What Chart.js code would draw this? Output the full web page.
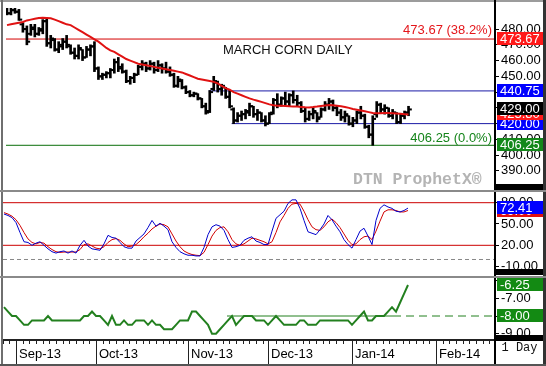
<!DOCTYPE html>
<html lang="en">
<head>
<meta charset="utf-8">
<title>March Corn Daily</title>
<script src="https://cdn.jsdelivr.net/npm/chart.js@4.4.1/dist/chart.umd.min.js"></script>
<style>
    html, body { margin: 0; padding: 0; background: #fff; }
    body { position: relative; width: 546px; height: 366px; overflow: hidden;
           font-family: "Liberation Sans", Arial, sans-serif; }
    canvas { position: absolute; left: 0; }
    .rule { position: absolute; }
    #title { position: absolute; left: 223px; top: 42px; font-size: 13px; color: #111; white-space: nowrap; }
    #brand { position: absolute; left: 353px; top: 170px; font: bold 16.5px "Liberation Mono", monospace;
             color: #b4b4b4; white-space: nowrap; }
    #period { position: absolute; left: 496px; top: 341px; width: 47px; height: 23px; line-height: 23px;
              text-align: center; font: 12px "Liberation Mono", monospace; color: #111; }
</style>
</head>
<body>
<canvas id="priceChart" width="546" height="188" style="top:2px"></canvas>
<canvas id="stochChart" width="546" height="83" style="top:193px"></canvas>
<canvas id="spreadChart" width="546" height="88" style="top:278px"></canvas>

<!-- marcos y separadores -->
<div class="rule" style="left:0;top:0;width:546px;height:2px;background:#9c9c9c"></div>
<div class="rule" style="left:1px;top:0;width:2px;height:366px;background:#6f6f6f"></div>
<div class="rule" style="left:543px;top:0;width:3px;height:366px;background:#333"></div>
<div class="rule" style="left:494px;top:0;width:2px;height:366px;background:#000"></div>
<div class="rule" style="left:0;top:190px;width:546px;height:2px;background:#8a8a8a"></div>
<div class="rule" style="left:496px;top:184px;width:47px;height:6px;background:#000"></div>
<div class="rule" style="left:0;top:276px;width:546px;height:2px;background:#8a8a8a"></div>
<div class="rule" style="left:496px;top:269px;width:47px;height:6px;background:#000"></div>
<div class="rule" style="left:496px;top:335px;width:47px;height:6px;background:#000"></div>
<div class="rule" style="left:0;top:364px;width:546px;height:2px;background:#555"></div>

<div id="title">MARCH CORN DAILY</div>
<div id="brand">DTN ProphetX®</div>
<div id="period">1 Day</div>

<script>
// Precios diarios (indice = sesion de trading)
const highs = [
    495, 496, 494, 492.5, 484, 482, 483, 483, 481, 486,
    487, 476, 474, 472, 474, 476, 470, 468, 470, 467,
    469, 470, 472, 456, 452, 453, 455, 461, 462, 458,
    454, 450, 452, 457, 460, 459, 460, 459, 460, 458,
    459, 456, 452, 450, 448, 444, 441, 440, 439, 436,
    433, 441, 450, 447, 445, 443, 441, 430, 427, 428,
    429, 433, 431, 429, 427, 425, 427, 436, 439, 437,
    440, 439, 440.75, 438, 434, 430, 428, 430, 427, 430,
    434, 436, 435, 431, 429, 428, 425, 424, 428, 431,
    426, 419, 425, 434, 433, 432, 430, 429, 427, 426,
    428, 431
];
const lows = [
    489, 489, 490, 485.5, 478, 470, 476, 475, 476, 477,
    469, 468, 466, 465, 467, 468, 464, 461, 461, 460,
    462, 463, 453, 448, 448, 449, 449, 452, 453, 452,
    446, 445, 446, 451, 454, 453, 454, 452, 453, 452,
    452, 450, 443, 443, 442, 439, 437, 437, 435, 430,
    426, 427, 441, 440, 438, 436, 430, 420, 421, 422,
    423, 425, 424, 422, 421, 418.5, 420, 426, 430, 431,
    432, 431, 433, 431, 427, 421, 422, 423, 421, 424,
    428, 429, 428, 425, 422, 421, 419, 418, 420, 423,
    417, 411, 406.25, 424, 427, 426, 424, 423, 420, 420,
    423, 425
];
const opens = [
    493, 490, 492, 491, 483, 480, 477, 480, 477, 479,
    485, 471, 473, 467, 469, 472, 469, 465, 463, 467,
    462, 467, 469, 455, 450, 451, 452, 454, 459, 456,
    453, 447, 449, 451, 456, 458, 455, 458, 454, 457,
    455, 453, 451, 444, 447, 443, 440, 438, 439, 436,
    431, 428, 442, 446, 442, 443, 437, 429, 422, 425,
    426, 427, 431, 426, 427, 422, 420, 427, 435, 432,
    436, 434, 438, 435, 433, 428, 423, 426, 427, 424,
    429, 432, 434, 430, 427, 424, 425, 420, 422, 427,
    425, 418, 413, 426, 432, 429, 430, 425, 427, 421,
    425, 427
];
const closes = [
    490, 492, 491, 486, 480, 472, 481, 477, 480, 485,
    471, 474, 467, 470, 472, 470, 465, 463, 468, 462,
    467, 469, 455, 450, 451, 452, 454, 459, 455, 453,
    447, 449, 451, 456, 458, 455, 458, 454, 457, 455,
    453, 451, 444, 448, 443, 440, 438, 439, 436, 431,
    427, 440, 447, 442, 444, 437, 431, 422, 425, 426,
    428, 431, 426, 427, 422, 420, 426, 435, 432, 436,
    434, 438, 435, 433, 428, 423, 426, 428, 423, 429,
    432, 434, 430, 427, 424, 426, 420, 422, 427, 425,
    418, 413, 423, 432, 429, 430, 425, 427, 421, 425,
    427, 429
];
// Media movil (linea roja)
const movingAvg = [
    482.5, 483, 483.5, 484, 484.5, 485.5, 486, 486.5, 487, 487.2,
    487, 486.8, 486, 485, 484, 483, 482.5, 481, 479.5, 478,
    476.5, 475, 473.5, 472, 470, 468, 466.5, 465.5, 464, 462.5,
    461, 460, 459, 458, 457.5, 457, 456.5, 456, 455.5, 455,
    454.5, 454, 453.5, 453, 452.5, 451.5, 450.5, 449.5, 448.5, 448,
    447.5, 447, 446.5, 445.5, 444, 442.5, 441.5, 440, 439, 438,
    437, 436, 435.2, 434.5, 433.8, 433, 432.2, 431.6, 431.4, 431.3,
    431.2, 431, 430.9, 430.8, 430.6, 430.4, 430.3, 430.5, 430.8, 431.2,
    431.5, 431.8, 431.6, 431.3, 431, 430.6, 430, 429.3, 428.8, 428.3,
    427.8, 427.3, 426.8, 426.6, 426.6, 426.7, 426.8, 426.6, 426.4, 426.2,
    426, 425.8
];
// Estocastico %K (azul) y %D (rojo)
const stochK = [
    64, 62, 59, 52, 38, 25, 24, 20, 23, 25,
    20, 15, 11, 9, 11, 12, 9, 12, 9, 20,
    27, 19, 15, 14, 13, 22, 34, 31, 30, 24,
    18, 16, 16, 26, 31, 36, 45, 55, 47, 51,
    47, 42, 25, 17, 11, 8, 6, 6, 5, 5,
    17, 35, 46, 49, 47, 41, 28, 17, 18, 20,
    27, 30, 32, 26, 24, 21, 21, 40, 58, 63,
    68, 79, 84, 84, 72, 55, 39, 37, 35, 42,
    50, 62, 56, 47, 39, 28, 21, 16, 28, 40,
    44, 33, 21, 55, 72, 77, 74, 72, 68, 67,
    69, 72.41
];
const stochD = [
    66, 64, 61, 56, 48, 38, 29, 24, 22, 24,
    23, 18, 14, 11, 10, 10.5, 10.5, 10.5, 10.6, 14,
    21, 22, 19, 16, 15, 18, 24, 28, 29.5, 27,
    22, 18, 19, 21, 26, 32, 37, 43, 47, 50,
    49, 46, 36, 26, 18, 12, 9, 7, 6, 5.5,
    10, 21, 33, 41, 45, 46, 39, 28, 22, 20,
    22, 26, 30, 29, 27, 25, 22, 25, 38, 53,
    62, 72, 78, 79, 78, 68, 56, 46, 42, 41,
    46, 53, 57, 52, 45, 36, 27, 21, 22, 28,
    32, 33, 28, 40, 54, 67, 70, 70, 69, 67,
    67, 69
];
// Diferencial (panel inferior)
const spread = [
    -7.5, -7.75, -8, -8, -8.25, -8.5, -8.5, -8.25, -8.25, -8.25,
    -8.25, -8, -8.25, -8.25, -8.25, -8.25, -8.25, -8.25, -8.25, -8.25,
    -8, -8, -7.75, -8, -8, -8.25, -8.5, -8, -8.5, -8.5,
    -8.25, -8.5, -8.5, -8.25, -8.25, -8.25, -8.5, -8.25, -8.5, -8.5,
    -8.75, -8.75, -8.75, -8.5, -8.25, -8.25, -8.25, -7.75, -7.75, -8,
    -8.25, -8.5, -9, -9, -8.75, -8.5, -8.25, -8, -8.5, -8.25,
    -8, -8, -8, -8.25, -8.25, -8.25, -8.5, -8.25, -8, -8.25,
    -8.5, -8.5, -8.5, -8.5, -8.25, -8.25, -8.5, -8.5, -8.5, -8.25,
    -8.25, -8.25, -8.25, -8.25, -8.25, -8.25, -8.25, -8.5, -8.25, -8,
    -7.75, -8.25, -8.25, -8, -8, -8, -7.75, -7.5, -7.75, -7.25,
    -6.75, -6.25
];

// Niveles dibujados en el grafico
const fibHigh = 473.67, fibHighPct = 38.2;
const fibLow = 406.25, fibLowPct = 0.0;
const rangeTop = 440.75, rangeTopStart = 50.75;
const rangeBottom = 420.00, rangeBottomStart = 56.5;
const stochUpper = 80, stochLower = 20, stochZero = 0;
const spreadGuide = -8.00, spreadGuideStart = 55.75, spreadGuideDashFrom = 97.25;

// Ejes
const priceTicks = [390, 400, 410, 420, 430, 440, 450, 460, 470, 480];
const stochTicks = [-10, 0, 10, 20, 30, 40, 50, 60, 70, 80, 90];
const stochLabels = [-10, 20, 50, 80];
const spreadTicks = [-9, -8.5, -8, -7.5, -7, -6.5, -6];
const spreadLabels = [-9, -8, -7, -6];
const monthStarts = [3, 23, 46, 66, 87, 108];
const monthLabels = ['Sep-13', 'Oct-13', 'Nov-13', 'Dec-13', 'Jan-14', 'Feb-14'];

const xMin = -0.25, xMax = 122.75;
const fontFamily = '"Liberation Sans", Arial, sans-serif';

// Etiquetas de valor sobre el eje derecho y notas de Fibonacci
const axisTags = {
    id: 'axisTags',
    afterDraw(chart, args, opts) {
        const { ctx } = chart;
        const yScale = chart.scales.y;
        ctx.save();
        ctx.font = '13px ' + fontFamily;
        ctx.textBaseline = 'middle';
        (opts.notes || []).forEach(n => {
            const y = yScale.getPixelForValue(n.value) - n.lift;
            ctx.fillStyle = n.color;
            ctx.textAlign = 'right';
            ctx.fillText(n.text, chart.chartArea.right - 3, y);
        });
        (opts.tags || []).forEach(t => {
            const y = Math.round(yScale.getPixelForValue(t.value));
            ctx.fillStyle = t.bg;
            ctx.fillRect(yScale.left + 2, y - 7, 46, 13);
            ctx.fillStyle = '#fff';
            ctx.textAlign = 'left';
            ctx.fillText(t.value.toFixed(2), yScale.left + 5, y);
        });
        ctx.restore();
    }
};

function hiddenX() {
    return { type: 'linear', min: xMin, max: xMax, offset: false, display: false, grid: { offset: false } };
}

function rightAxis(min, max, tickValues, labelValues) {
    return {
        type: 'linear', position: 'right', min, max,
        afterBuildTicks: s => { s.ticks = tickValues.map(v => ({ value: v })); },
        afterFit: s => { s.width = 51; s.paddingTop = 0; s.paddingBottom = 0; },
        border: { display: false },
        grid: { drawOnChartArea: false, tickLength: 4, tickColor: '#000', tickWidth: 1 },
        ticks: {
            color: '#000', padding: 2, font: { size: 13, family: fontFamily },
            callback: v => labelValues.includes(v) ? v.toFixed(2) : ''
        }
    };
}

function flatLine(y, from, to, color, dash) {
    return {
        type: 'line',
        data: [{ x: from, y }, { x: to, y }],
        borderColor: color, borderWidth: 1, borderDash: dash || [],
        pointRadius: 0, fill: false
    };
}

function seriesPoints(values, shift) {
    return values.map((v, i) => ({ x: i + (shift || 0), y: v }));
}

const baseOptions = {
    responsive: false,
    animation: false,
    events: [],
    layout: { padding: { left: 3, right: 0, top: 0, bottom: 0 } }
};

// Grafico de precios
new Chart(document.getElementById('priceChart'), {
    type: 'line',
    data: {
        datasets: [
            { type: 'line', data: seriesPoints(movingAvg), borderColor: '#e01212', borderWidth: 2, pointRadius: 0 },
            {
                type: 'bar',
                data: highs.map((h, i) => ({ x: i, y: [lows[i], h] })),
                backgroundColor: '#000', borderWidth: 0, barThickness: 2
            },
            { type: 'line', data: seriesPoints(opens, -0.45), showLine: false, pointStyle: 'line',
              pointRadius: 1.5, pointBorderWidth: 2, pointBorderColor: '#000' },
            { type: 'line', data: seriesPoints(closes, 0.45), showLine: false, pointStyle: 'line',
              pointRadius: 1.5, pointBorderWidth: 2, pointBorderColor: '#000' },
            flatLine(fibHigh, xMin, xMax, '#d40000'),
            flatLine(fibLow, xMin, xMax, '#0a6e0a'),
            flatLine(rangeTop, rangeTopStart, xMax, '#1a1aa6'),
            flatLine(rangeBottom, rangeBottomStart, xMax, '#1a1aa6')
        ]
    },
    options: {
        ...baseOptions,
        plugins: {
            legend: { display: false }, tooltip: { enabled: false },
            axisTags: {
                notes: [
                    { value: fibHigh, text: `${fibHigh.toFixed(2)} (${fibHighPct.toFixed(1)}%)`, color: '#e4161b', lift: 9 },
                    { value: fibLow, text: `${fibLow.toFixed(2)} (${fibLowPct.toFixed(1)}%)`, color: '#14841a', lift: 7 }
                ],
                tags: [
                    { value: fibHigh, bg: '#ff1a1a' },
                    { value: rangeTop, bg: '#0000ff' },
                    { value: rangeBottom, bg: '#0000ff' },
                    { value: movingAvg[movingAvg.length - 1], bg: '#ff1a1a' },
                    { value: closes[closes.length - 1], bg: '#000' },
                    { value: fibLow, bg: '#13881a' }
                ]
            }
        },
        scales: { x: hiddenX(), y: rightAxis(381.68, 493.37, priceTicks, priceTicks) }
    },
    plugins: [axisTags]
});

// Estocastico
new Chart(document.getElementById('stochChart'), {
    type: 'line',
    data: {
        datasets: [
            { data: seriesPoints(stochK), borderColor: '#0000cc', borderWidth: 1, pointRadius: 0 },
            { data: seriesPoints(stochD), borderColor: '#d00000', borderWidth: 1, pointRadius: 0 },
            flatLine(stochUpper, xMin, xMax, '#cc0000'),
            flatLine(stochLower, xMin, xMax, '#cc0000'),
            flatLine(stochZero, xMin, xMax, '#888', [4, 3])
        ]
    },
    options: {
        ...baseOptions,
        plugins: {
            legend: { display: false }, tooltip: { enabled: false },
            axisTags: {
                tags: [
                    { value: stochD[stochD.length - 1], bg: '#e01010' },
                    { value: stochK[stochK.length - 1], bg: '#0000ff' }
                ]
            }
        },
        scales: { x: hiddenX(), y: rightAxis(-23.24, 93.66, stochTicks, stochLabels) }
    },
    plugins: [axisTags]
});

// Ticks del eje de tiempo: menores cada ~1.67 sesiones, mayores al inicio de cada mes
function timeTicks() {
    const ticks = monthStarts.map(v => ({ value: v, month: true }));
    for (let v = -0.17; v < xMax; v += 5 / 3) {
        if (!monthStarts.some(m => Math.abs(m - v) < 0.6)) ticks.push({ value: v });
    }
    return ticks.sort((a, b) => a.value - b.value);
}

// Diferencial + eje de tiempo
new Chart(document.getElementById('spreadChart'), {
    type: 'line',
    data: {
        datasets: [
            { data: seriesPoints(spread), borderColor: '#23801f', borderWidth: 2, pointRadius: 0 },
            flatLine(spreadGuide, spreadGuideStart, spreadGuideDashFrom, '#23801f'),
            flatLine(spreadGuide, spreadGuideDashFrom, xMax, '#23801f', [8, 5])
        ]
    },
    options: {
        ...baseOptions,
        plugins: {
            legend: { display: false }, tooltip: { enabled: false },
            axisTags: {
                tags: [
                    { value: spreadGuide, bg: '#138a13' },
                    { value: spread[spread.length - 1], bg: '#138a13' }
                ]
            }
        },
        scales: {
            x: {
                type: 'linear', position: 'bottom', min: xMin, max: xMax, offset: false,
                afterBuildTicks: s => { s.ticks = timeTicks(); },
                afterFit: s => { s.height = 26; s.paddingLeft = 0; s.paddingRight = 0; },
                border: { display: true, color: '#222', width: 2 },
                grid: {
                    drawOnChartArea: false, offset: false, tickLength: 26, tickColor: '#222', tickWidth: 1,
                    tickBorderDash: c => (c.tick && c.tick.month) ? [] : [3, 40]
                },
                ticks: {
                    autoSkip: false, maxRotation: 0, minRotation: 0, align: 'start', labelOffset: 3, padding: -19,
                    color: '#000', font: { size: 13, family: fontFamily },
                    callback: v => {
                        const k = monthStarts.indexOf(v);
                        return k >= 0 ? monthLabels[k] : '';
                    }
                }
            },
            y: rightAxis(-9.356, -5.853, spreadTicks, spreadLabels)
        }
    },
    plugins: [axisTags]
});
</script>
</body>
</html>
